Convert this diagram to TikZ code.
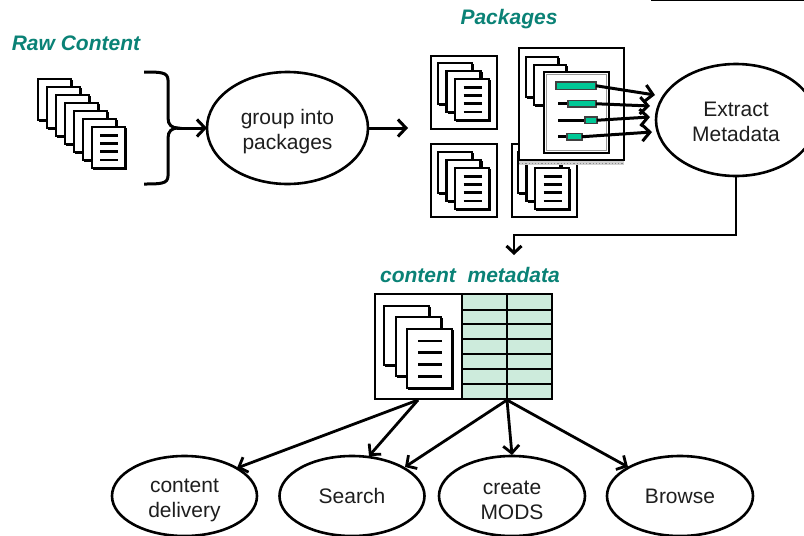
\documentclass[tikz,border=0pt]{standalone}
\usepackage{fontspec}
\setmainfont{Liberation Sans}
\usetikzlibrary{shapes.geometric,arrows.meta,calc}
\definecolor{teal1}{HTML}{0A8276}
\definecolor{barg}{HTML}{00C896}
\definecolor{tblg}{HTML}{CDEBDC}
\definecolor{ink}{HTML}{1E1E1E}
% x y w h : a page with a hard shadow
\newcommand\sheet[4]{%
  \fill[black] (#1+1,#2+1) rectangle (#1+#3+2.2,#2+#4+2.2);
  \draw[sheetline,fill=white] (#1,#2) rectangle (#1+#3,#2+#4);
}
\newcommand\sheetlines[4]{%
  \foreach \f in {0.2,0.4,0.6,0.8}
    \draw[line width=2.6pt] ({#1+0.25*#3},{#2+\f*#4}) -- ({#1+0.78*#3},{#2+\f*#4});
}
\newcommand\stack[1]{% box top-left offset, three-page stack of 34x41
  \begin{scope}[shift={(#1)}]
    \sheet{7}{7}{34}{41}
    \sheet{15.5}{15}{34}{41}
    \sheet{24}{23}{34}{41}
    \sheetlines{24}{23}{34}{41}
  \end{scope}
}
\tikzset{
  sheetline/.style={line width=2.3pt,draw=black},
  pkgbox/.style={draw=black,line width=2.8pt,fill=white},
  oval/.style={ellipse,draw=black,line width=2.6pt,fill=white,inner sep=0pt,outer sep=0pt,
    align=center,text=ink,font=\fontsize{21}{25}\selectfont},
  head/.style={text=teal1,font=\fontsize{21}{25}\selectfont\bfseries\itshape,inner sep=0pt},
  conn/.style={line width=3pt,-{Straight Barb[length=8pt,width=17pt,line width=3pt]}},
  bar/.style={draw=black!75,line width=1.4pt,fill=barg,inner sep=0pt,outer sep=0pt,anchor=north west},
}
\begin{document}
\begin{tikzpicture}[x=1pt,y=-1pt]
\useasboundingbox (0,0) rectangle (804,536);
\clip (0,0) rectangle (804,536);
\fill[white] (0,0) rectangle (804,536);
\draw[line width=2.4pt] (651,0) -- (804,0);

% Headings
\node[head] (rawh) at (76,43) {Raw Content};
\node[head] (pkgh) at (509,19) {Packages};
\node[head] (cmh) at (470,275) {content\ \ metadata};

% Raw content pages
\foreach \i in {0,...,6} {
  \sheet{38+9*\i}{79+8*\i}{33}{41}
}
\sheetlines{92}{127}{33}{41}

% Brace
\draw[line width=3pt] (144,72) .. controls (160,72) and (168,72) .. (168,80)
  -- (168,118) .. controls (168,125) and (172,128) .. (178,128)
  .. controls (172,128) and (168,131) .. (168,138) -- (168,176)
  .. controls (168,184) and (160,184) .. (144,184);
\coordinate (bracetip) at (177,128);

% Ovals
\node[oval,minimum width=161pt,minimum height=112pt] (group) at (287.5,128) {\rule{0pt}{23pt}group into\\packages};
\node[oval,minimum width=160pt,minimum height=112pt] (extract) at (736,120) {\rule{0pt}{19pt}Extract\\Metadata};
\node[oval,minimum width=145pt,minimum height=80pt] (delivery) at (184.5,496) {\rule{0pt}{23pt}content\\delivery};
\node[oval,minimum width=145pt,minimum height=80pt] (search) at (352,496) {Search};
\node[oval,minimum width=146pt,minimum height=80pt] (mods) at (512,496) {\rule{0pt}{23pt}create\\MODS};
\node[oval,minimum width=146pt,minimum height=80pt] (browse) at (680,496) {Browse};

\draw[conn] (bracetip) -- (group.west);

% Package boxes
\draw[pkgbox] (431,56) rectangle (497,129);
\stack{431,56}
\draw[pkgbox] (431,144) rectangle (497,217);
\stack{431,145}
\draw[pkgbox] (512,144) rectangle (577,217);
\stack{511,145}

% Textured edge under the enlarged box
\fill[black!18] (519,160) rectangle (624,165);
\draw[black!45,line width=1.2pt,dotted] (519,163.5) -- (624,163.5);

% Enlarged package
\node[pkgbox,minimum width=105pt,minimum height=112pt,inner sep=0pt,outer sep=0pt,anchor=north west] (bigbox) at (519,48) {};
\sheet{526}{57}{32}{40}
\sheet{534}{65}{32}{40}
\draw[line width=2.8pt,fill=white] (544,72) rectangle (609,153);
\draw[line width=1pt,black!40] (546.5,74.5) rectangle (606.5,150.5);

\draw[line width=3pt] (558,103.5) -- (568,103.5);
\draw[line width=3pt] (558,120) -- (585,120);
\draw[line width=3pt] (558,136.5) -- (567,136.5);
\node[bar,minimum width=40pt,minimum height=7.5pt] (b1) at (556,82) {};
\node[bar,minimum width=28pt,minimum height=6.5pt] (b2) at (568,100.5) {};
\node[bar,minimum width=12pt,minimum height=6.5pt] (b3) at (585,117) {};
\node[bar,minimum width=15pt,minimum height=6.5pt] (b4) at (567,133.5) {};

\coordinate (t1) at (655,95);
\coordinate (t2) at (650,106);
\coordinate (t3) at (650,117);
\coordinate (t4) at (652,132);
\draw[conn] (b1.east) -- (t1);
\draw[conn] (b2.east) -- (t2);
\draw[conn] (b3.east) -- (t3);
\draw[conn] (b4.east) -- (t4);

% group -> packages arrow
\coordinate (pkgin) at (408,128);
\draw[conn] (group.east) -- (pkgin);

% Extract -> table
\coordinate (elbowin) at (514,255);
\draw[line width=2.8pt,-{Straight Barb[length=7pt,width=15pt,line width=3pt]}]
  (extract.south) -- (736,235) -- (514,235) -- (elbowin);

% Table
\node[draw=black,line width=2.8pt,fill=white,minimum width=177pt,minimum height=105pt,inner sep=0pt,outer sep=0pt,anchor=north west] (tbl) at (375,294) {};
\fill[tblg] (462,294) rectangle (552,399);
\foreach \yy in {310,324,339,354,369,384}
  \draw[line width=2.6pt] (462,\yy) -- (552,\yy);
\draw[line width=2.6pt] (507,294) -- (507,399);
\draw[line width=2.8pt] (462,294) -- (462,399);
\draw[line width=2.8pt] (375,294) rectangle (552,399);
\sheet{384}{306}{45}{59}
\sheet{396}{317}{45}{59}
\sheet{407}{329}{45}{59}
\sheetlines{407}{329}{45}{59}

\coordinate (tblA) at (418,400);
\coordinate (tblB) at (507,400);
\coordinate (tipA) at (237,468);
\coordinate (tipB) at (369,456);
\coordinate (tipC) at (405,467);
\coordinate (tipD) at (512,455);
\coordinate (tipE) at (628,467);
\tikzset{conn2/.style={line width=2.8pt,-{Straight Barb[length=7.5pt,width=16pt,line width=2.8pt]}}}
\draw[conn2] (tblA) -- (tipA);
\draw[conn2] (tblA) -- (tipB);
\draw[conn2] (tblB) -- (tipC);
\draw[conn2] (tblB) -- (tipD);
\draw[conn2] (tblB) -- (tipE);
\end{tikzpicture}
\end{document}
